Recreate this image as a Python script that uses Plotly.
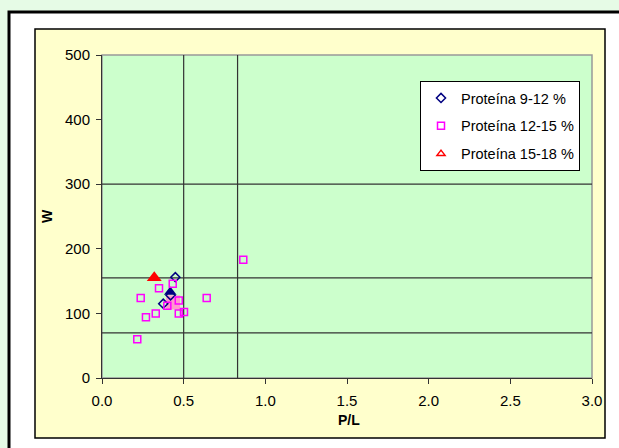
import plotly.graph_objects as go

# Data
p9_x = [0.449, 0.375, 0.42]
p9_y = [156, 115, 128]
p12_x = [0.865, 0.433, 0.349, 0.237, 0.641, 0.47, 0.40, 0.329, 0.269, 0.47, 0.502, 0.216]
p12_y = [183, 146, 139, 124, 124, 120, 112, 100, 94, 100, 102, 60]
p15_x = [0.32]
p15_y = [155]
mean9 = ([0.418], [133])
mean12 = ([0.435], [117])
mean15 = ([0.32], [155])
vlines = [0.5, 0.83]
hlines = [70, 155, 300]
names = ["Proteína 9-12 %", "Proteína 12-15 %", "Proteína 15-18 %"]

W, H = 619, 448
L, R, T, B = 102, 592, 55, 378
pw, ph = R - L, B - T

def px(x):
    return (x - L) / pw

def py(y):
    return (B - y) / ph

fig = go.Figure()

fig.add_trace(go.Scatter(x=mean12[0], y=mean12[1], mode="markers", showlegend=False,
                         marker=dict(symbol="square", size=14, color="#FF99CC",
                                     line=dict(color="#FF99CC", width=0))))
fig.add_trace(go.Scatter(x=mean9[0], y=mean9[1], mode="markers", showlegend=False,
                         marker=dict(symbol="triangle-up", size=11, color="#000080")))
fig.add_trace(go.Scatter(x=p9_x, y=p9_y, mode="markers", name=names[0], legendgroup="a",
                         marker=dict(symbol="diamond-open", size=7, color="#000080",
                                     line=dict(width=1.5))))
fig.add_trace(go.Scatter(x=p12_x, y=p12_y, mode="markers", name=names[1], legendgroup="b",
                         marker=dict(symbol="square-open", size=7, color="#FF00FF",
                                     line=dict(width=1.5))))
fig.add_trace(go.Scatter(x=p15_x, y=p15_y, mode="markers", name=names[2], legendgroup="c",
                         marker=dict(symbol="triangle-up-open", size=7, color="#FF0000",
                                     line=dict(width=1.5))))
fig.add_trace(go.Scatter(x=mean15[0], y=mean15[1], mode="markers", showlegend=False,
                         marker=dict(symbol="triangle-up", size=13, color="#FF0000")))

shapes = []
shapes.append(dict(type="rect", xref="paper", yref="paper", layer="below",
                   x0=px(9), x1=px(640), y0=py(12), y1=py(470),
                   fillcolor="white", line=dict(color="black", width=3)))
shapes.append(dict(type="rect", xref="paper", yref="paper", layer="below",
                   x0=px(35), x1=px(605), y0=py(29), y1=py(438),
                   fillcolor="#FFFFCC", line=dict(color="black", width=1.5)))
shapes.append(dict(type="rect", xref="paper", yref="paper", layer="below",
                   x0=0, x1=1, y0=0, y1=1,
                   fillcolor="#CCFFCC", line=dict(color="#999999", width=1.5)))
for v in vlines:
    shapes.append(dict(type="line", xref="x", yref="y", layer="below",
                       x0=v, x1=v, y0=0, y1=500, line=dict(color="#333333", width=1.2)))
for h in hlines:
    shapes.append(dict(type="line", xref="x", yref="y", layer="below",
                       x0=0, x1=3, y0=h, y1=h, line=dict(color="#333333", width=1.2)))

FAM = "Arial, Liberation Sans, sans-serif"
tickfont = dict(family=FAM, size=15, color="black")

fig.update_layout(
    width=W, height=H,
    margin=dict(l=L, r=W - R, t=T, b=H - B, pad=0),
    paper_bgcolor="#E6FBE6",
    plot_bgcolor="rgba(0,0,0,0)",
    shapes=shapes,
    font=dict(family=FAM, size=13, color="black"),
    showlegend=True,
    legend=dict(x=px(420), y=py(81), xanchor="left", yanchor="top",
                bgcolor="white", bordercolor="black", borderwidth=1,
                font=dict(family=FAM, size=14.5, color="black"),
                tracegroupgap=6),
    xaxis=dict(range=[0, 3], dtick=0.5, tick0=0, tickformat=".1f", showgrid=False,
               zeroline=False, showline=True, linecolor="#333333", linewidth=1,
               ticks="outside", ticklen=5, tickcolor="#333333", tickfont=tickfont,
               ticklabelstandoff=4),
    yaxis=dict(range=[0, 500], dtick=100, tick0=0, showgrid=False,
               zeroline=False, showline=True, linecolor="#333333", linewidth=1,
               ticks="outside", ticklen=5, tickcolor="#333333", tickfont=tickfont,
               ticklabelstandoff=3),
    annotations=[
        dict(text="<b>P/L</b>", xref="paper", yref="paper", x=px(349), y=py(420),
             showarrow=False, xanchor="center", yanchor="middle",
             font=dict(family=FAM, size=14)),
        dict(text="<b>W</b>", xref="paper", yref="paper", x=px(47), y=py(216),
             showarrow=False, xanchor="center", yanchor="middle", textangle=-90,
             font=dict(family=FAM, size=14)),
    ],
)

fig.write_html(
    "out.html",
    config={"displayModeBar": False},
    post_script="document.body.style.margin='0';document.body.style.background='#E6FBE6';document.body.style.overflow='hidden';",
)
